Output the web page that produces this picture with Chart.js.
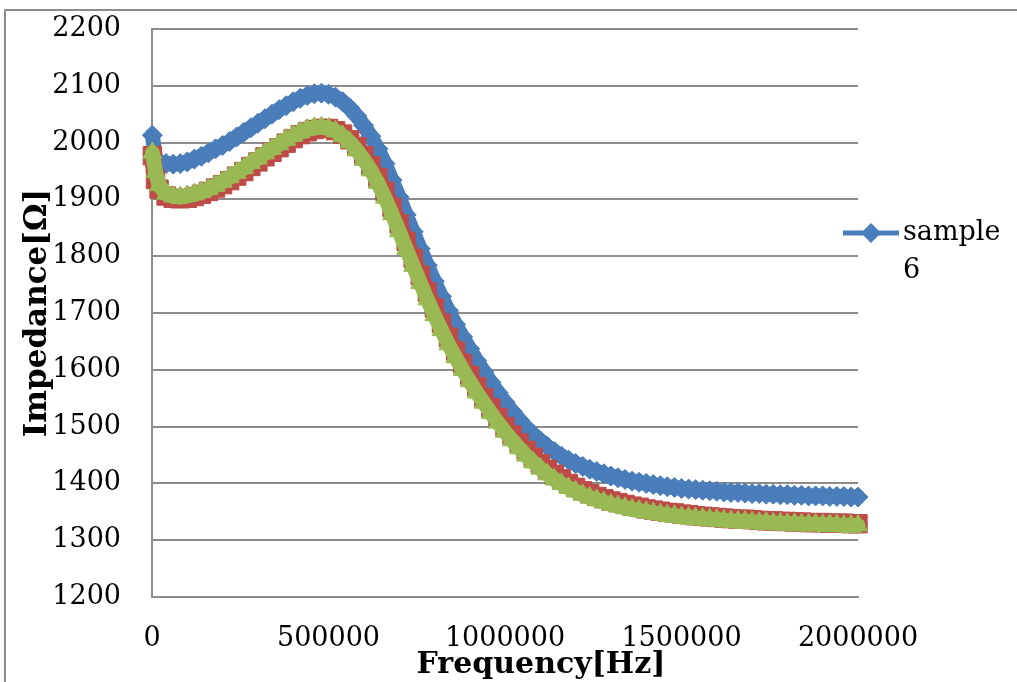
<!DOCTYPE html>
<html>
<head>
<meta charset="utf-8">
<script src="https://cdn.jsdelivr.net/npm/chart.js@4/dist/chart.umd.min.js"></script>
<style>
  body { margin: 0; background: #ffffff; }
  canvas { display: block; }
</style>
</head>
<body>
<canvas id="impedanceChart" width="1017" height="682"></canvas>
<script>
// tần số (Hz)
const frequency = [1000, 10000,
    20000, 40000, 60000, 80000, 100000, 120000, 140000, 160000, 180000, 200000,
    220000, 240000, 260000, 280000, 300000, 320000, 340000, 360000, 380000, 400000,
    420000, 440000, 460000, 480000, 500000, 520000, 540000, 560000, 580000, 600000,
    620000, 640000, 660000, 680000, 700000, 720000, 740000, 760000, 780000, 800000,
    820000, 840000, 860000, 880000, 900000, 920000, 940000, 960000, 980000, 1000000,
    1020000, 1040000, 1060000, 1080000, 1100000, 1120000, 1140000, 1160000, 1180000, 1200000,
    1220000, 1240000, 1260000, 1280000, 1300000, 1320000, 1340000, 1360000, 1380000, 1400000,
    1420000, 1440000, 1460000, 1480000, 1500000, 1520000, 1540000, 1560000, 1580000, 1600000,
    1620000, 1640000, 1660000, 1680000, 1700000, 1720000, 1740000, 1760000, 1780000, 1800000,
    1820000, 1840000, 1860000, 1880000, 1900000, 1920000, 1940000, 1960000, 1980000, 2000000];

// sample 6 (xanh dương)
const sample6 = [2013, 1972,
    1966, 1963, 1962, 1963, 1966, 1971, 1976, 1982, 1989, 1995,
    2002, 2010, 2018, 2026, 2034, 2042, 2050, 2058, 2065, 2072,
    2078, 2083, 2086, 2087, 2085, 2080, 2072, 2061, 2047, 2030,
    2011, 1989, 1963, 1934, 1904, 1873, 1843, 1813, 1784, 1756,
    1729, 1704, 1680, 1658, 1637, 1616, 1597, 1578, 1560, 1543,
    1527, 1512, 1498, 1486, 1475, 1465, 1456, 1448, 1441, 1435,
    1430, 1425, 1421, 1417, 1413, 1410, 1407, 1404, 1402, 1400,
    1398, 1396, 1394, 1393, 1391, 1390, 1389, 1388, 1387, 1386,
    1385, 1384, 1384, 1383, 1382, 1382, 1381, 1381, 1380, 1380,
    1379, 1379, 1378, 1378, 1378, 1377, 1377, 1377, 1376, 1376];

// series 2 (đỏ)
const sampleRed = [1977, 1935,
    1918, 1906, 1902, 1901, 1902, 1905, 1909, 1914, 1920, 1926,
    1933, 1941, 1949, 1958, 1966, 1975, 1983, 1991, 1999, 2007,
    2014, 2019, 2023, 2025, 2025, 2021, 2015, 2005, 1993, 1977,
    1959, 1938, 1914, 1886, 1857, 1826, 1796, 1766, 1737, 1709,
    1682, 1657, 1633, 1611, 1590, 1570, 1551, 1533, 1516, 1500,
    1485, 1471, 1458, 1446, 1435, 1425, 1416, 1408, 1400, 1393,
    1387, 1382, 1377, 1373, 1369, 1366, 1363, 1360, 1358, 1355,
    1353, 1351, 1349, 1348, 1346, 1345, 1343, 1342, 1341, 1340,
    1339, 1338, 1337, 1337, 1336, 1335, 1334, 1334, 1333, 1333,
    1332, 1332, 1331, 1331, 1331, 1330, 1330, 1330, 1329, 1329];

// series 3 (xanh lá)
const sampleGreen = [1982, 1948,
    1925, 1910, 1905, 1904, 1906, 1909, 1913, 1918, 1924, 1931,
    1939, 1947, 1955, 1964, 1972, 1981, 1989, 1997, 2005, 2012,
    2018, 2023, 2026, 2027, 2025, 2020, 2012, 2001, 1987, 1970,
    1951, 1929, 1903, 1874, 1844, 1813, 1783, 1753, 1724, 1696,
    1670, 1645, 1622, 1600, 1580, 1560, 1542, 1524, 1507, 1491,
    1476, 1462, 1449, 1437, 1426, 1416, 1407, 1399, 1392, 1386,
    1380, 1375, 1371, 1367, 1363, 1360, 1357, 1354, 1352, 1350,
    1348, 1346, 1344, 1343, 1341, 1340, 1339, 1338, 1337, 1336,
    1335, 1334, 1333, 1333, 1332, 1331, 1331, 1330, 1330, 1329,
    1329, 1328, 1328, 1328, 1327, 1327, 1327, 1326, 1326, 1326];

const xTicks = [0, 500000, 1000000, 1500000, 2000000];
const yTicks = [1200, 1300, 1400, 1500, 1600, 1700, 1800, 1900, 2000, 2100, 2200];

const FONT = 'DejaVu Serif';
const GRID = '#8c8c8c';
const BLUE = '#4a7ebb';
const RED = '#be4b48';
const GREEN = '#98b954';

function toPoints(values) {
    return frequency.map(function (f, i) { return { x: f, y: values[i] }; });
}

// khung ngoài, tiêu đề trục và chú thích
const decorations = {
    id: 'decorations',
    beforeDraw: function (chart) {
        const c = chart.ctx;
        c.save();
        c.fillStyle = '#ffffff';
        c.fillRect(0, 0, chart.width, chart.height);
        c.strokeStyle = GRID;
        c.lineWidth = 2;
        c.strokeRect(5, 10, chart.width + 20, chart.height + 20);
        c.restore();
    },
    afterDraw: function (chart) {
        const c = chart.ctx;
        const area = chart.chartArea;
        c.save();
        c.fillStyle = '#000000';
        c.font = 'bold 30px "' + FONT + '"';
        c.textAlign = 'center';
        c.textBaseline = 'alphabetic';
        c.fillText('Frequency[Hz]', (area.left + area.right) / 2 + 36, 673);

        c.font = 'bold 31px "' + FONT + '"';
        c.translate(46, (area.top + area.bottom) / 2);
        c.rotate(-Math.PI / 2);
        c.fillText('Impedance[Ω]', 0, 0);
        c.restore();

        // legend: chỉ hiện sample 6
        c.save();
        const ly = 233;
        c.strokeStyle = BLUE;
        c.lineWidth = 5;
        c.beginPath();
        c.moveTo(843, ly);
        c.lineTo(899, ly);
        c.stroke();
        c.fillStyle = BLUE;
        c.beginPath();
        c.moveTo(871 - 10, ly);
        c.lineTo(871, ly - 10);
        c.lineTo(871 + 10, ly);
        c.lineTo(871, ly + 10);
        c.closePath();
        c.fill();
        c.fillStyle = '#000000';
        c.font = '27px "' + FONT + '"';
        c.textAlign = 'left';
        c.textBaseline = 'middle';
        c.fillText('sample', 903, ly);
        c.fillText('6', 903, ly + 38);
        c.restore();
    }
};

const ctx = document.getElementById('impedanceChart').getContext('2d');

const impedanceChart = new Chart(ctx, {
    type: 'scatter',
    data: {
        datasets: [{
            label: 'sample 6',
            data: toPoints(sample6),
            showLine: true,
            borderColor: BLUE,
            backgroundColor: BLUE,
            borderWidth: 15,
            borderJoinStyle: 'round',
            borderCapStyle: 'round',
            pointStyle: 'rectRot',
            pointRadius: 10,
            pointBorderWidth: 1,
            pointBorderColor: BLUE,
            pointBackgroundColor: BLUE,
            clip: false,
            order: 2
        }, {
            label: 'series 2',
            data: toPoints(sampleRed),
            showLine: true,
            borderColor: RED,
            backgroundColor: RED,
            borderWidth: 17,
            borderJoinStyle: 'round',
            borderCapStyle: 'round',
            pointStyle: 'rect',
            pointRadius: 13,
            pointBorderWidth: 1,
            pointBorderColor: RED,
            pointBackgroundColor: RED,
            clip: false,
            order: 1
        }, {
            label: 'series 3',
            data: toPoints(sampleGreen),
            showLine: true,
            borderColor: GREEN,
            backgroundColor: GREEN,
            borderWidth: 15,
            borderJoinStyle: 'round',
            borderCapStyle: 'round',
            pointStyle: 'triangle',
            pointRadius: 11,
            pointBorderWidth: 1,
            pointBorderColor: GREEN,
            pointBackgroundColor: GREEN,
            clip: false,
            order: 0
        }]
    },
    options: {
        responsive: false,
        animation: false,
        devicePixelRatio: 1,
        layout: {
            autoPadding: false,
            padding: { left: 0, top: 29, right: 159, bottom: 0 }
        },
        plugins: {
            legend: { display: false },
            tooltip: { enabled: false }
        },
        scales: {
            x: {
                type: 'linear',
                min: 0,
                max: 2000000,
                afterBuildTicks: function (scale) {
                    scale.ticks = xTicks.map(function (v) { return { value: v }; });
                },
                afterFit: function (scale) { scale.height = 85; },
                grid: { display: false, drawTicks: false },
                border: { display: true, color: GRID, width: 2 },
                ticks: {
                    color: '#000000',
                    font: { family: FONT, size: 27 },
                    padding: 26,
                    maxRotation: 0,
                    callback: function (v) { return String(v); }
                }
            },
            y: {
                type: 'linear',
                min: 1200,
                max: 2200,
                afterBuildTicks: function (scale) {
                    scale.ticks = yTicks.map(function (v) { return { value: v }; });
                },
                afterFit: function (scale) { scale.width = 152; },
                grid: { color: GRID, lineWidth: 2, drawTicks: true, tickLength: 31, tickColor: 'rgba(0,0,0,0)' },
                border: { display: true, color: GRID, width: 2 },
                ticks: {
                    color: '#000000',
                    font: { family: FONT, size: 27 },
                    padding: 0,
                    callback: function (v) { return String(v); }
                }
            }
        }
    },
    plugins: [decorations]
});
</script>
</body>
</html>
